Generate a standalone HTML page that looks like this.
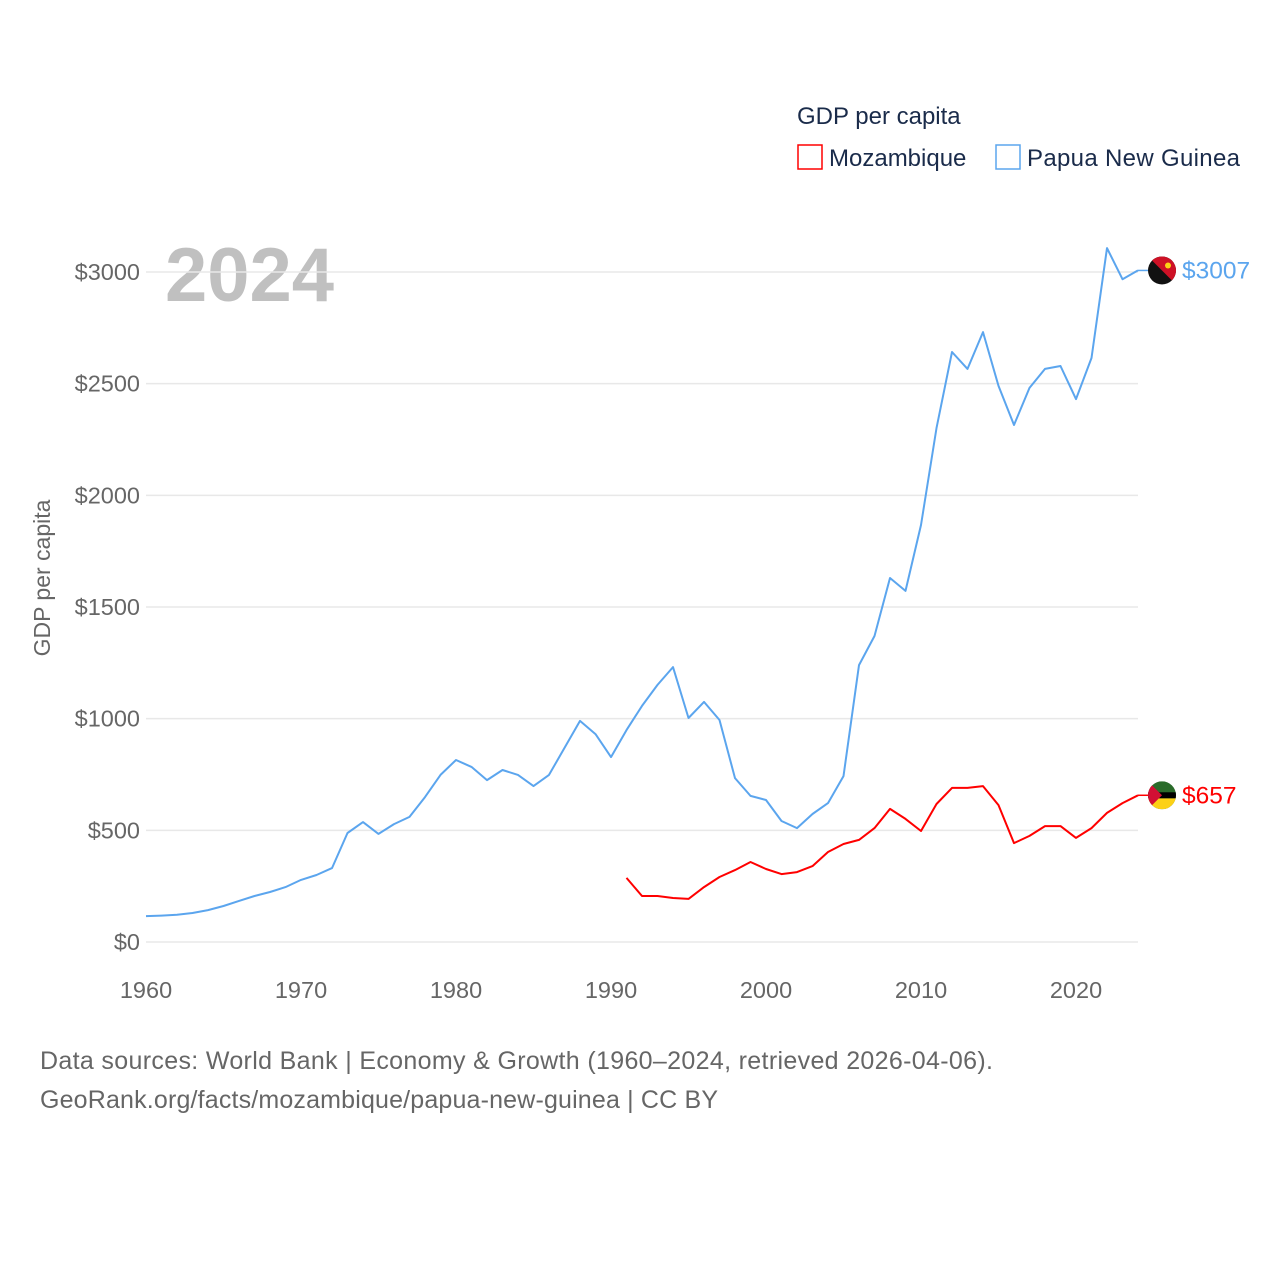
<!DOCTYPE html>
<html><head><meta charset="utf-8"><style>
body{margin:0;background:#fff;font-family:"Liberation Sans",sans-serif;}
svg text{font-family:"Liberation Sans",sans-serif;}
</style></head><body>
<svg id="chart" width="1280" height="1280" xmlns="http://www.w3.org/2000/svg">
<defs><clipPath id="c1"><circle cx="1162" cy="270" r="14"/></clipPath><clipPath id="c2"><circle cx="1162" cy="795" r="14"/></clipPath></defs>
<rect width="1280" height="1280" fill="#fff"/>
<text x="797" y="124" font-size="24" fill="#1a2b4a">GDP per capita</text>
<g><rect x="798" y="145" width="24" height="24" fill="none" stroke="#f00" stroke-width="1.5"/><text x="829" y="166" font-size="24" fill="#1a2b4a">Mozambique</text></g>
<g><rect x="996" y="145" width="24" height="24" fill="none" stroke="#5ba5ee" stroke-width="1.5"/><text x="1027" y="166" font-size="24" fill="#1a2b4a" textLength="213">Papua New Guinea</text></g>
<text x="165" y="301" font-size="76" font-weight="bold" fill="#c0c0c0">2024</text>
<text transform="translate(50,578) rotate(-90)" text-anchor="middle" font-size="23" fill="#666">GDP per capita</text>
<g id="grid"></g><g id="series"></g>
<text x="40" y="1069" font-size="25" fill="#666" textLength="953">Data sources: World Bank | Economy &amp; Growth (1960–2024, retrieved 2026-04-06).</text>
<text x="40" y="1108" font-size="25" fill="#666" textLength="678">GeoRank.org/facts/mozambique/papua-new-guinea | CC BY</text>
</svg>
<script>
const yTicks=[0,500,1000,1500,2000,2500,3000];
const xTicks=[1960,1970,1980,1990,2000,2010,2020];
const pngStart=1960;
const pngValues=[116,118,122,130,143,161,184,206,224,246,278,300,331,488,537,484,528,560,649,748,815,784,725,770,748,698,748,869,990,931,828,949,1057,1151,1231,1003,1075,994,734,654,636,542,510,573,622,743,1240,1370,1630,1572,1867,2301,2642,2566,2731,2490,2315,2481,2566,2579,2431,2615,3107,2968,3007];
const mozStart=1991;
const mozValues=[287,206,206,197,193,246,291,322,358,327,304,313,340,403,439,457,510,596,551,497,618,690,690,698,613,443,475,519,519,466,510,578,622,657];
const NS="http://www.w3.org/2000/svg";
const x=yr=>146+(yr-1960)*15.5;
const y=v=>942-v*0.22333;
const grid=document.getElementById('grid'),ser=document.getElementById('series');
function mk(tag,attrs,parent,txt){const e=document.createElementNS(NS,tag);for(const k in attrs)e.setAttribute(k,attrs[k]);if(txt!==undefined)e.textContent=txt;parent.appendChild(e);return e;}
yTicks.forEach(v=>{
 const l=mk('line',{x1:146,x2:1138,y1:y(v),y2:y(v),stroke:'#e8e8e8','stroke-width':1.5},grid);
 
 
 const t=mk('text',{x:140,y:y(v)+8,'text-anchor':'end','font-size':23.5,fill:'#666'},grid,'$'+v);
 
 
});
xTicks.forEach(yr=>{
 const t=mk('text',{x:x(yr),y:998,'text-anchor':'middle','font-size':23.5,fill:'#666'},grid,String(yr));
 
 
});
function line(start,vals,color,name,clip){
 const d=vals.map((v,i)=>(i?'L':'M')+x(start+i).toFixed(1)+','+y(v).toFixed(1)).join('');
 const p=mk('path',{d:d,fill:'none',stroke:color,'stroke-width':2,'stroke-linejoin':'round'},ser);
 
 
 const last=vals[vals.length-1],ly=y(last);
 mk('line',{x1:x(start+vals.length-1),x2:1150,y1:ly,y2:ly,stroke:color,'stroke-width':1.5},ser);
 const g=mk('g',{'clip-path':'url(#'+clip+')',transform:'translate(0,'+(ly-(clip==='c1'?270:795))+')'},ser);
 
 
 const cy=clip==='c1'?270:795;
 if(clip==='c1'){mk('rect',{x:1148,y:cy-14,width:28,height:28,fill:'#111'},g);mk('path',{d:`M1148,${cy-14}L1176,${cy-14}L1176,${cy+14}Z`,fill:'#ce1126'},g);mk('circle',{cx:1168,cy:cy-5,r:3,fill:'#fcd116'},g);}
 else{mk('rect',{x:1148,y:cy-14,width:28,height:28,fill:'#2a6b2a'},g);mk('rect',{x:1148,y:cy+3,width:28,height:11,fill:'#fcd116'},g);mk('rect',{x:1148,y:cy-3,width:28,height:6,fill:'#000'},g);mk('path',{d:`M1148,${cy-14}L1162,${cy}L1148,${cy+14}Z`,fill:'#d21034'},g);}
 const t=mk('text',{x:1182,y:ly+8,'font-size':24.5,fill:color},ser,'$'+last);
 
 
}
line(pngStart,pngValues,'#5ba5ee','png-line','c1');
line(mozStart,mozValues,'#ff0000','mozambique-line','c2');
</script>
</body></html>
